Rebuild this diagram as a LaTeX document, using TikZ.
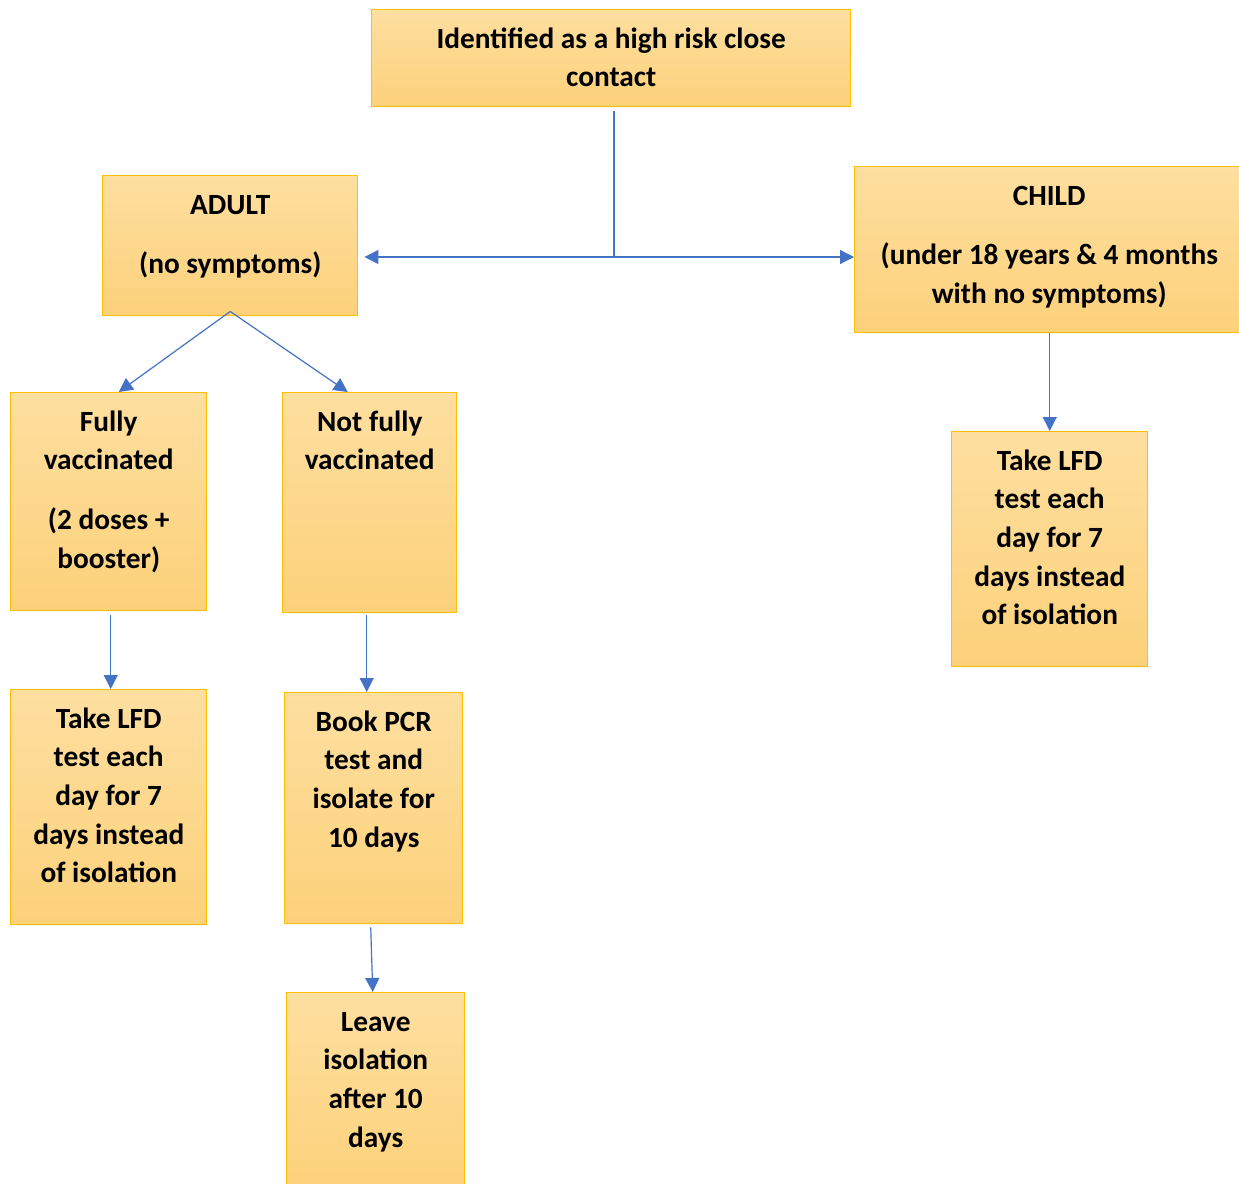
\documentclass[tikz,border=0pt]{standalone}
\usepackage{fontspec}
\setmainfont{Carlito}
\usetikzlibrary{arrows.meta,calc}

\definecolor{boxline}{RGB}{255,192,0}
\definecolor{boxtop}{RGB}{254,223,160}
\definecolor{boxbot}{RGB}{252,209,122}
\definecolor{linkblue}{RGB}{68,114,196}

% box text: width and height in px, lines top-aligned
\newcommand{\boxbody}[3]{\parbox[t][\dimexpr #2pt*3/4\relax][t]{\dimexpr #1pt*3/4\relax}{\centering\vspace*{8.6pt}\strut #3\par\vfill}}

\tikzset{every picture/.style={line width=0.75pt}}
\tikzset{
  box/.style={draw=boxline, line width=1.1pt, top color=boxtop, bottom color=boxbot,
    inner sep=0pt, anchor=north west, font=\fontsize{22}{29}\selectfont\bfseries},
  link/.style={draw=linkblue, line width=0.9pt},
  arr/.style={link, -{Triangle[length=10.5pt,width=10.5pt]}}
}

\begin{document}
\begin{tikzpicture}[x=0.75pt,y=0.75pt,yscale=-1,xscale=1]
\useasboundingbox (0,0) rectangle (1239,1184);

%Boxes
\node[box] (top) at (371,9) {\boxbody{479}{97}{Identified as a high risk close\\contact}};
\node[box] (adult) at (102,175) {\boxbody{255}{140}{ADULT\\[15.75pt](no symptoms)}};
\node[box] (child) at (854,166) {\boxbody{389}{166}{CHILD\\[15.75pt](under 18 years \& 4 months\\with no symptoms)}};
\node[box] (fully) at (10,392) {\boxbody{196}{218}{Fully\\vaccinated\\[15.75pt](2 doses +\\booster)}};
\node[box] (notfully) at (282,392) {\boxbody{174}{220}{Not fully\\vaccinated}};
\node[box] (lfdadult) at (10,689) {\boxbody{196}{235}{Take LFD\\test each\\day for 7\\days instead\\of isolation}};
\node[box] (pcr) at (284,692) {\boxbody{178}{231}{Book PCR\\test and\\isolate for\\10 days}};
\node[box] (leave) at (286,992) {\boxbody{178}{200}{Leave\\isolation\\after 10\\days}};
\node[box] (lfdchild) at (951,431) {\boxbody{196}{235}{Take LFD\\test each\\day for 7\\days instead\\of isolation}};

%Connectors
\coordinate (split) at (614,257);
\draw[link] ($(top.south -| split)+(0,4)$) -- (split);
\draw[arr, shorten >=4.5pt] (split) -- (split -| adult.east);
\draw[arr] (split) -- (split -| child.west);

\draw[arr] ($(adult.south)+(0,-5)$) -- ($(fully.north)+(10,0)$);
\draw[arr] ($(adult.south)+(0,-5)$) -- ($(notfully.north)+(-22,0)$);

\draw[arr] ($(fully.south)+(2,4)$) -- ($(lfdadult.north)+(2,0)$);
\draw[arr] ($(notfully.south)+(-3,2)$) -- ($(pcr.north)+(-7,0)$);
\draw[arr] ($(pcr.south)+(-3,3)$) -- ($(leave.north)+(-3,0)$);
\draw[arr] (child.south -| lfdchild.north) -- (lfdchild.north);

\end{tikzpicture}
\end{document}
